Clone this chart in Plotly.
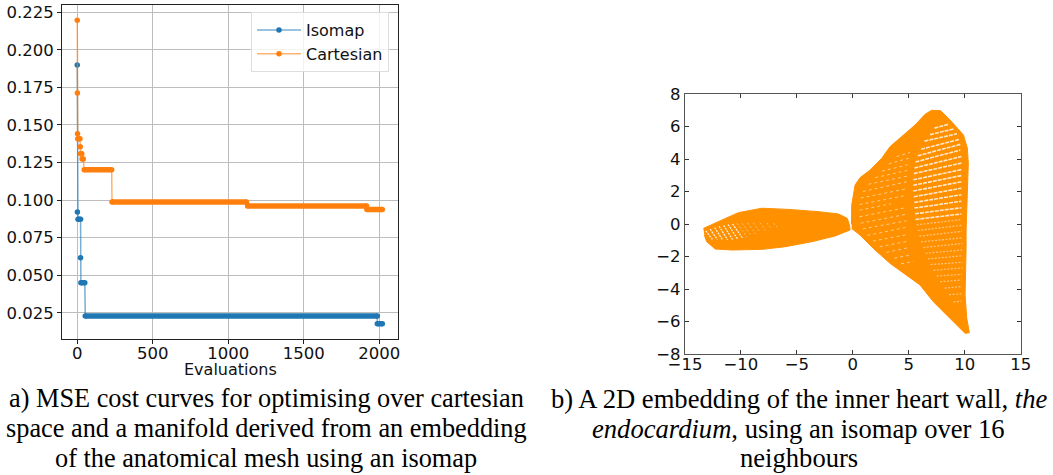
import plotly.graph_objects as go

W, H = 1053, 475

# --- Panel a: cost curves (best-so-far points)
iso_x = [0, 1, 5, 22, 22, 24, 50, 53, 1987, 1987, 2020]
iso_y = [0.19, 0.092, 0.0872, 0.0872, 0.0616, 0.045, 0.045, 0.0228, 0.0228, 0.0177, 0.0177]
iso_run_start = [5, 24, 53, 1987]
iso_run_end = [22, 50, 1987, 2020]
iso_run_value = [0.0872, 0.045, 0.0228, 0.0177]

car_x = [0, 1, 2, 3, 18, 20, 22, 30, 32, 40, 46, 228, 230, 1121, 1128, 1916, 1918, 2020]
car_y = [0.2197, 0.1713, 0.1442, 0.1409, 0.1409, 0.1355, 0.1309, 0.1309, 0.1273, 0.1273,
         0.1202, 0.1202, 0.0987, 0.0987, 0.096, 0.096, 0.0938, 0.0938]
car_run_start = [3, 22, 32, 46, 230, 1128, 1918]
car_run_end = [18, 30, 40, 228, 1121, 1916, 2020]
car_run_value = [0.1409, 0.1309, 0.1273, 0.1202, 0.0987, 0.096, 0.0938]

# --- Panel b: outline of the embedded point cloud
right_lobe_x = [-0.12, -0.1, 0.2, 0.64, 1.54, 2.58, 3.32, 4.51, 5.56, 6.45, 7.05, 7.85, 8.69, 9.88, 10.23, 10.32,
                10.18, 10.12, 10.12, 10.03, 10.18, 10.41, 10.03, 8.69, 7.19, 6.0, 3.32, 1.83, 0.64, -0.1]
right_lobe_y = [0, 1.17, 2.4, 2.85, 3.32, 4.04, 4.76, 5.48, 6.09, 6.75, 7.0, 6.97, 6.4, 5.48, 4.68, 3.73,
                1.17, -0.37, -1.5, -4.37, -5.8, -6.69, -6.73, -5.8, -4.78, -3.75, -2.42, -1.5, -0.68, -0.28]
left_lobe_x = [-13.36, -12.02, -10.23, -8.14, -5.76, -3.08, -1.3, -0.5, -0.3, -0.25, -1.59, -3.67, -6.06,
               -8.14, -10.82, -12.3, -13.06, -13.27]
left_lobe_y = [-0.27, 0.14, 0.7, 0.97, 0.9, 0.76, 0.62, 0.35, -0.06, -0.37, -0.74, -1.09, -1.4,
               -1.56, -1.6, -1.54, -1.09, -0.68]

# gaps between rows of points, sparse outer band of the right lobe
gap_x0 = [7.3, 6.9, 6.4, 6.1, 5.8, 5.6, 5.5, 5.45, 5.4, 5.4, 5.4, 5.45, 5.5, 5.5, 5.55, 5.6]
gap_x1 = [8.6, 9.0, 9.3, 9.5, 9.6, 9.6, 9.7, 9.7, 9.7, 9.7, 9.7, 9.7, 9.7, 9.7, 9.7, 9.7]
gap_y0 = [5.9, 5.5, 5.1, 4.6, 4.2, 3.82, 3.45, 3.1, 2.72, 2.38, 2.03, 1.68, 1.33, 0.98, 0.63, 0.28]
gap_y1 = [6.15, 5.85, 5.55, 5.2, 4.9, 4.55, 4.15, 3.75, 3.35, 2.98, 2.6, 2.2, 1.8, 1.4, 1.0, 0.62]
# fainter gaps, lower part of the outer band
faint_x0 = [5.7, 5.8, 5.95, 6.1, 6.3, 6.5, 6.7, 6.95, 7.2, 7.5, 7.8, 8.2, 8.6, 9.0]
faint_x1 = [9.7, 9.75, 9.75, 9.75, 9.8, 9.8, 9.8, 9.8, 9.8, 9.75, 9.7, 9.7, 9.7, 9.7]
faint_y0 = [-0.05, -0.4, -0.75, -1.1, -1.45, -1.8, -2.15, -2.5, -2.85, -3.2, -3.55, -3.95, -4.35, -4.8]
faint_y1 = [0.27, -0.08, -0.45, -0.85, -1.2, -1.6, -1.95, -2.35, -2.7, -3.1, -3.45, -3.85, -4.3, -4.75]
# short gaps, inner band of the right lobe
inner_x0 = [3.9, 3.2, 2.6, 2.0, 1.4, 0.9, 0.7, 0.6, 0.6, 0.6, 0.7, 0.9, 1.3, 1.8, 2.4, 3.0, 3.7, 4.3]
inner_x1 = [5.1, 5.0, 4.9, 4.9, 4.9, 4.8, 4.7, 4.7, 3.4, 4.7, 4.8, 4.8, 4.8, 4.9, 5.0, 5.0, 5.2, 5.4]
inner_y0 = [4.15, 3.7, 3.25, 2.85, 2.45, 2.0, 1.6, 1.2, 0.85, 0.45, 0.05, -0.3, -0.7, -1.05, -1.4, -1.75, -2.1, -2.45]
inner_y1 = [4.4, 4.05, 3.65, 3.3, 2.95, 2.6, 2.15, 1.75, 1.25, 1.0, 0.6, 0.2, -0.2, -0.65, -1.05, -1.45, -1.9, -2.3]
# diagonal gaps at the tip of the left lobe
tip_x0 = [-13.15, -12.75, -12.35, -11.95, -11.55, -11.15, -10.75]
tip_x1 = [-12.55, -12.1, -11.65, -11.2, -10.75, -10.3, -9.85]
tip_y0 = [-0.42, -0.32, -0.22, -0.14, -0.08, -0.03, 0.0]
tip_y1 = [-0.95, -0.96, -0.97, -0.97, -0.96, -0.93, -0.88]
tip_far_x0 = [-10.35, -9.9, -9.4, -8.9, -8.3, -7.7, -7.1]
tip_far_x1 = [-9.45, -9.1, -8.7, -8.3, -7.8, -7.3, -6.75]
tip_far_y0 = [0.03, 0.05, 0.07, 0.08, 0.08, 0.07, 0.05]
tip_far_y1 = [-0.8, -0.72, -0.62, -0.5, -0.4, -0.3, -0.2]

x_ticks_a = [0, 500, 1000, 1500, 2000]
y_ticks_a = [0.025, 0.05, 0.075, 0.1, 0.125, 0.15, 0.175, 0.2, 0.225]
x_ticks_b = [-15, -10, -5, 0, 5, 10, 15]
y_ticks_b = [-8, -6, -4, -2, 0, 2, 4, 6, 8]

caption_a = ["a) MSE cost curves for optimising over cartesian",
             "space and a manifold derived from an embedding",
             "of the anatomical mesh using an isomap"]
caption_b = ["b) A 2D embedding of the inner heart wall, <i>the</i>",
             "<i>endocardium</i>, using an isomap over 16",
             "neighbours"]

BLUE, ORANGE, HEART = "#1f77b4", "#ff7f0e", "#ff9000"
SANS = "DejaVu Sans"
SERIF = "Liberation Serif"


def segments(x0, y0, x1, y1):
    xs, ys = [], []
    for a, b, c, d in zip(x0, y0, x1, y1):
        xs += [a, c, None]
        ys += [b, d, None]
    return xs, ys


fig = go.Figure()


def curve(name, xs, ys, starts, ends, values, rgb, color):
    fig.add_trace(go.Scatter(x=xs, y=ys, name=name, mode="lines+markers",
                             line=dict(color=f"rgba({rgb},0.6)", width=1.5),
                             marker=dict(color=color, size=5.5), xaxis="x", yaxis="y"))
    sx, sy = segments(starts, values, ends, values)
    fig.add_trace(go.Scatter(x=sx, y=sy, mode="lines", showlegend=False, hoverinfo="skip",
                             line=dict(color=color, width=5.5), xaxis="x", yaxis="y"))


curve("Isomap", iso_x, iso_y, iso_run_start, iso_run_end, iso_run_value, "31,119,180", BLUE)
curve("Cartesian", car_x, car_y, car_run_start, car_run_end, car_run_value, "255,127,14", ORANGE)

for lx, ly in ((left_lobe_x, left_lobe_y), (right_lobe_x, right_lobe_y)):
    fig.add_trace(go.Scatter(x=lx, y=ly, mode="lines", fill="toself", fillcolor=HEART,
                             line=dict(color=HEART, width=1), showlegend=False,
                             hoverinfo="skip", xaxis="x2", yaxis="y2"))

gap_sets = [
    (gap_x0, gap_y0, gap_x1, gap_y1, 1.6, "4px,1px", 0.8),
    (faint_x0, faint_y0, faint_x1, faint_y1, 1.2, "2px,1.5px", 0.5),
    (inner_x0, inner_y0, inner_x1, inner_y1, 1.0, "3px,3px", 0.55),
    (tip_x0, tip_y0, tip_x1, tip_y1, 1.3, "2px,1px", 0.85),
    (tip_far_x0, tip_far_y0, tip_far_x1, tip_far_y1, 1.0, "2px,2px", 0.45),
]
for x0, y0, x1, y1, w, dash, op in gap_sets:
    sx, sy = segments(x0, y0, x1, y1)
    fig.add_trace(go.Scatter(x=sx, y=sy, mode="lines", showlegend=False, hoverinfo="skip", opacity=op,
                             line=dict(color="white", width=w, dash=dash), xaxis="x2", yaxis="y2"))

annotations = []
for lines, cx, fs in ((caption_a, 266, 26.3), (caption_b, 798.5, 26.6)):
    for text, cy in zip(lines, (398.5, 428.5, 458)):
        annotations.append(dict(text=text, xref="paper", yref="paper", x=cx / W, y=1 - cy / H,
                                xanchor="center", yanchor="middle", showarrow=False,
                                font=dict(family=SERIF, size=fs, color="black")))
annotations.append(dict(text="Evaluations", xref="paper", yref="paper", x=230 / W, y=1 - 369 / H,
                        xanchor="center", yanchor="middle", showarrow=False,
                        font=dict(family=SANS, size=16, color="#111111")))

fig.update_layout(
    width=W, height=H, margin=dict(l=0, r=0, t=0, b=0),
    paper_bgcolor="white", plot_bgcolor="white",
    font=dict(family=SANS, size=16.5, color="#111111"),
    showlegend=True,
    legend=dict(x=389 / W, xanchor="right", y=1 - 12 / H, yanchor="top", itemwidth=44,
                bgcolor="rgba(255,255,255,0.8)", bordercolor="#dddddd", borderwidth=1,
                font=dict(family=SANS, size=16)),
    xaxis=dict(domain=[62 / W, 397.7 / W], range=[-101, 2122], tickvals=x_ticks_a, ticktext=[str(v) for v in x_ticks_a],
               automargin=False, ticklabelstandoff=-5,
               showgrid=True, gridcolor="#bdbdbd", gridwidth=1.2, zeroline=False,
               showline=True, linecolor="#222222", linewidth=1, mirror=True,
               ticks="outside", ticklen=4, tickcolor="#222222", anchor="y"),
    yaxis=dict(domain=[1 - 338.7 / H, 1 - 5 / H], range=[0.0077, 0.2299], tickvals=y_ticks_a, tickformat=".3f",
               automargin=False,
               showgrid=True, gridcolor="#bdbdbd", gridwidth=1.2, zeroline=False,
               showline=True, linecolor="#222222", linewidth=1, mirror=True,
               ticks="outside", ticklen=4, tickcolor="#222222", anchor="x"),
    xaxis2=dict(domain=[685 / W, 1020.7 / W], range=[-15, 15], tickvals=x_ticks_b, automargin=False, ticklabelstandoff=-5,
                showgrid=False, zeroline=False, showline=True, linecolor="#555555", linewidth=1.3, mirror="allticks",
                ticks="inside", ticklen=4, tickcolor="#333333", anchor="y2"),
    yaxis2=dict(domain=[1 - 354 / H, 1 - 94 / H], range=[-8, 8], tickvals=y_ticks_b, automargin=False,
                showgrid=False, zeroline=False, showline=True, linecolor="#555555", linewidth=1.3, mirror="allticks",
                ticks="inside", ticklen=4, tickcolor="#333333", anchor="x2"),
    annotations=annotations,
)

fig.write_html("out.html", config={"displayModeBar": False}, post_script="document.body.style.margin='0';")
